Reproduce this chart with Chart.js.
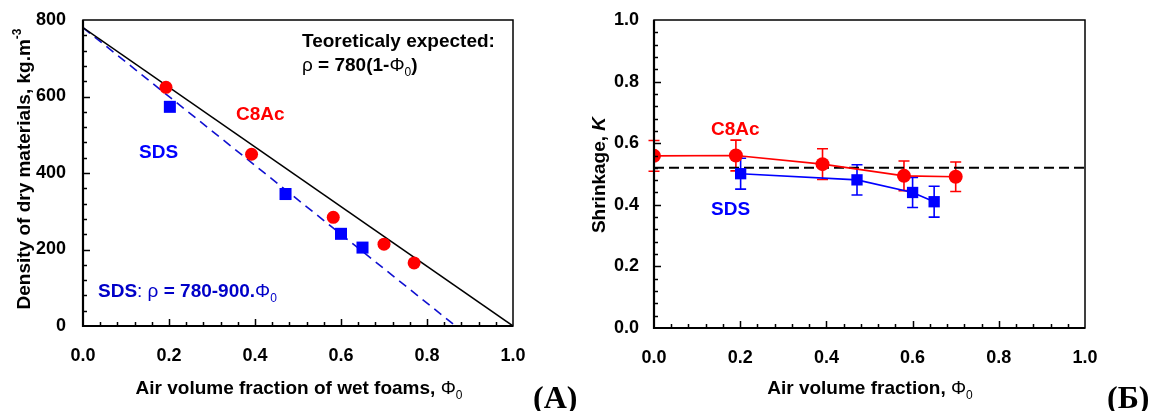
<!DOCTYPE html>
<html>
<head>
<meta charset="utf-8">
<script src="https://cdn.jsdelivr.net/npm/chart.js@4"></script>
<style>
  html, body { margin: 0; padding: 0; background: #fff; }
  #wrap { position: relative; width: 1149px; height: 411px; overflow: hidden; }
  #wrap canvas { position: absolute; top: 0; }
</style>
</head>
<body>
<div id="wrap">
  <canvas id="chartA" width="580" height="411" style="left:0"></canvas>
  <canvas id="chartB" width="569" height="411" style="left:580px"></canvas>
</div>
<script>
(function () {
  "use strict";

  // ---- panel (A): density vs air fraction ----
  var c8acX = [0.193, 0.392, 0.582, 0.70, 0.77];
  var c8acDensity = [624, 449, 284, 214, 165];
  var sdsX = [0.202, 0.471, 0.60, 0.65];
  var sdsDensity = [573, 345, 241, 205];
  var theoryX = [0, 1];
  var theoryY = [780, 0];
  var sdsFitX = [0, 0.8667];
  var sdsFitY = [780, 0];

  // ---- panel (Б): shrinkage ----
  var c8acShrinkX = [0.0, 0.19, 0.391, 0.58, 0.70];
  var c8acShrink = [0.559, 0.56, 0.532, 0.494, 0.491];
  var c8acShrinkErr = [0.05, 0.05, 0.05, 0.048, 0.048];
  var sdsShrinkX = [0.201, 0.471, 0.60, 0.65];
  var sdsShrink = [0.501, 0.481, 0.44, 0.41];
  var sdsShrinkErr = [0.05, 0.049, 0.049, 0.05];
  var refLineX = [0, 1];
  var refLineY = [0.52, 0.52];

  var RED = "#ff0000";
  var BLUE = "#0000ff";
  var FAM = '"Liberation Sans", Arial, sans-serif';
  var B = "bold 19px " + FAM;
  var N = "19px " + FAM;
  var SUB = "bold 12px " + FAM;
  var SUBN = "12px " + FAM;
  var SERIF = 'bold 32px "Liberation Serif", "Times New Roman", serif';

  function pts(xs, ys) {
    return xs.map(function (x, i) { return { x: x, y: ys[i] }; });
  }

  function drawRuns(ctx, runs, x, y, align, color) {
    var w = 0;
    runs.forEach(function (r) { ctx.font = r[1]; w += ctx.measureText(r[0]).width; });
    var cx = align === "center" ? x - w / 2 : x;
    ctx.textAlign = "left";
    ctx.textBaseline = "alphabetic";
    ctx.fillStyle = color || "#000";
    runs.forEach(function (r) {
      ctx.font = r[1];
      ctx.fillText(r[0], cx, y + (r[2] || 0));
      cx += ctx.measureText(r[0]).width;
    });
  }

  // frame + inward ticks (major and minor)
  function frame(minorX, majorX, minorY, majorY) {
    return {
      id: "frame",
      afterDraw: function (chart) {
        var ctx = chart.ctx, a = chart.chartArea;
        var xs = chart.scales.x, ys = chart.scales.y;
        ctx.save();
        ctx.strokeStyle = "#000";
        ctx.lineWidth = 1.5;
        ctx.strokeRect(a.left, a.top, a.right - a.left, a.bottom - a.top);
        ctx.lineWidth = 2.2;
        ctx.beginPath();
        ctx.moveTo(a.left, a.top); ctx.lineTo(a.left, a.bottom); ctx.lineTo(a.right, a.bottom);
        ctx.stroke();
        ctx.lineWidth = 1.5;
        ctx.beginPath();
        var v, p, n, i;
        n = Math.round((xs.max - xs.min) / minorX);
        for (i = 1; i < n; i++) {
          v = xs.min + i * minorX;
          p = Math.round(xs.getPixelForValue(v)) + 0.5;
          var big = Math.abs(v / majorX - Math.round(v / majorX)) < 1e-6;
          ctx.moveTo(p, a.bottom); ctx.lineTo(p, a.bottom - (big ? 7 : 4));
        }
        n = Math.round((ys.max - ys.min) / minorY);
        for (i = 1; i < n; i++) {
          v = ys.min + i * minorY;
          p = Math.round(ys.getPixelForValue(v)) + 0.5;
          var bigY = Math.abs(v / majorY - Math.round(v / majorY)) < 1e-6;
          ctx.moveTo(a.left, p); ctx.lineTo(a.left + (bigY ? 7 : 4), p);
        }
        ctx.stroke();
        ctx.restore();
      }
    };
  }

  function axesOpts(min, max, step, yW, xH, yPad, fmt) {
    return {
      x: {
        type: "linear", min: 0, max: 1,
        grid: { display: false }, border: { display: false },
        ticks: { stepSize: 0.2, color: "#000", font: { family: FAM, size: 18, weight: "bold" }, padding: 11,
          callback: function (v) { return v.toFixed(1); } },
        afterFit: function (s) { s.height = xH; }
      },
      y: {
        type: "linear", min: min, max: max,
        grid: { display: false }, border: { display: false },
        ticks: { stepSize: step, color: "#000", font: { family: FAM, size: 18, weight: "bold" }, padding: yPad,
          callback: fmt },
        afterFit: function (s) { s.width = yW; }
      }
    };
  }

  var base = {
    responsive: false,
    animation: false,
    devicePixelRatio: 1,
    plugins: { legend: { display: false }, tooltip: { enabled: false } }
  };

  // ---------- chart A ----------
  var labelsA = {
    id: "labelsA",
    afterDraw: function (chart) {
      var ctx = chart.ctx;
      ctx.save();
      drawRuns(ctx, [["Teoreticaly expected:", B]], 302, 47, "left");
      drawRuns(ctx, [["\u03c1", N], [" = 780(1-", B], ["\u03a6", N], ["0", SUBN, 5], [")", B]], 302, 71, "left");
      drawRuns(ctx, [["C8Ac", B]], 236, 120, "left", RED);
      drawRuns(ctx, [["SDS", B]], 139, 158, "left", BLUE);
      drawRuns(ctx, [["SDS", B], [": ", N], ["\u03c1", N], [" = 780-900.", B], ["\u03a6", N], ["0", SUBN, 5]], 98, 297, "left", "#0000c8");
      drawRuns(ctx, [["Air volume fraction of wet foams, ", B], ["\u03a6", N], ["0", SUBN, 5]], 299, 394, "center");
      drawRuns(ctx, [["(A)", SERIF]], 533, 408, "left");
      ctx.translate(30, 169);
      ctx.rotate(-Math.PI / 2);
      drawRuns(ctx, [["Density of dry materials, kg.m", B], ["-3", SUB, -9]], 0, 0, "center");
      ctx.restore();
    }
  };

  new Chart(document.getElementById("chartA"), {
    type: "scatter",
    data: {
      datasets: [
        { data: pts(c8acX, c8acDensity), pointStyle: "circle", pointRadius: 6.5,
          backgroundColor: RED, borderColor: RED, borderWidth: 0, showLine: false },
        { data: pts(sdsX, sdsDensity), pointStyle: "rect", pointRadius: 8.5,
          backgroundColor: BLUE, borderColor: BLUE, borderWidth: 0, showLine: false },
        { data: pts(theoryX, theoryY), showLine: true, pointRadius: 0,
          borderColor: "#000", borderWidth: 1.5 },
        { data: pts(sdsFitX, sdsFitY), showLine: true, pointRadius: 0,
          borderColor: "#1010d0", borderWidth: 1.6, borderDash: [9, 6] }
      ]
    },
    options: Object.assign({}, base, {
      layout: { padding: { top: 20, right: 67, left: 0, bottom: 0 } },
      scales: axesOpts(0, 800, 200, 83, 85, 9, function (v) { return String(v); })
    }),
    plugins: [frame(0.04, 0.2, 40, 200), labelsA]
  });

  // ---------- chart B ----------
  function errorBars(xs, ys, errs, color, ctx, chart) {
    var sx = chart.scales.x, sy = chart.scales.y;
    ctx.strokeStyle = color;
    ctx.lineWidth = 1.6;
    ctx.beginPath();
    xs.forEach(function (x, i) {
      var px = sx.getPixelForValue(x);
      var top = sy.getPixelForValue(ys[i] + errs[i]);
      var bot = sy.getPixelForValue(ys[i] - errs[i]);
      ctx.moveTo(px, top); ctx.lineTo(px, bot);
      ctx.moveTo(px - 5.5, top); ctx.lineTo(px + 5.5, top);
      ctx.moveTo(px - 5.5, bot); ctx.lineTo(px + 5.5, bot);
    });
    ctx.stroke();
  }

  var bars = {
    id: "bars",
    beforeDatasetsDraw: function (chart) {
      var ctx = chart.ctx;
      ctx.save();
      errorBars(c8acShrinkX, c8acShrink, c8acShrinkErr, RED, ctx, chart);
      errorBars(sdsShrinkX, sdsShrink, sdsShrinkErr, BLUE, ctx, chart);
      ctx.restore();
    }
  };

  var OX = 580;
  var labelsB = {
    id: "labelsB",
    afterDraw: function (chart) {
      var ctx = chart.ctx;
      ctx.save();
      drawRuns(ctx, [["C8Ac", B]], 711 - OX, 135, "left", RED);
      drawRuns(ctx, [["SDS", B]], 711 - OX, 215, "left", BLUE);
      drawRuns(ctx, [["Air volume fraction, ", B], ["\u03a6", N], ["0", SUBN, 5]], 870 - OX, 394, "center");
      drawRuns(ctx, [["(\u0411)", SERIF]], 1107 - OX, 408, "left");
      ctx.translate(605 - OX, 175);
      ctx.rotate(-Math.PI / 2);
      drawRuns(ctx, [["Shrinkage, ", B], ["K", "italic " + B]], 0, 0, "center");
      ctx.restore();
    }
  };

  new Chart(document.getElementById("chartB"), {
    type: "scatter",
    data: {
      datasets: [
        { data: pts(c8acShrinkX, c8acShrink), showLine: true, pointStyle: "circle", pointRadius: 7,
          backgroundColor: RED, pointBorderWidth: 0, borderColor: RED, borderWidth: 1.6 },
        { data: pts(sdsShrinkX, sdsShrink), showLine: true, pointStyle: "rect", pointRadius: 8,
          backgroundColor: BLUE, pointBorderWidth: 0, borderColor: BLUE, borderWidth: 1.6 },
        { data: pts(refLineX, refLineY), showLine: true, pointRadius: 0,
          borderColor: "#000", borderWidth: 2, borderDash: [10, 5] }
      ]
    },
    options: Object.assign({}, base, {
      layout: { padding: { top: 20, right: 64, left: 0, bottom: 0 } },
      scales: axesOpts(0, 1, 0.2, 74, 83, 7, function (v) { return v.toFixed(1); })
    }),
    plugins: [frame(0.04, 0.2, 0.04, 0.2), bars, labelsB]
  });
})();
</script>
</body>
</html>
